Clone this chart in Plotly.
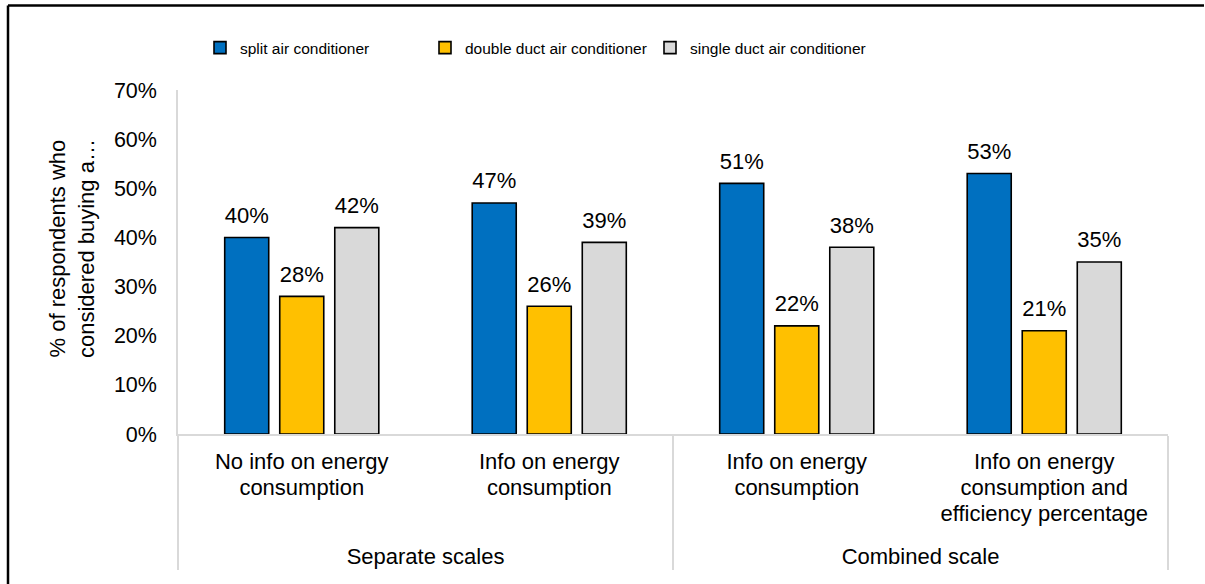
import plotly.graph_objects as go

# Survey groups (outer axis level) and information conditions (inner level)
groups = ["Separate scales", "Separate scales", "Combined scale", "Combined scale"]
conditions = [
    ["No info on energy", "consumption"],
    ["Info on energy", "consumption"],
    ["Info on energy", "consumption"],
    ["Info on energy", "consumption and", "efficiency percentage"],
]

# Share of respondents who considered buying each product type
series_names = ["split air conditioner", "double duct air conditioner", "single duct air conditioner"]
split_ac = [0.40, 0.47, 0.51, 0.53]
double_duct_ac = [0.28, 0.26, 0.22, 0.21]
single_duct_ac = [0.42, 0.39, 0.38, 0.35]
series_values = [split_ac, double_duct_ac, single_duct_ac]
series_colors = ["#0070C0", "#FFC000", "#D9D9D9"]

y_tick_values = [0, 0.1, 0.2, 0.3, 0.4, 0.5, 0.6, 0.7]

W, H = 1205, 584
ML, MR, MT, MB = 178, 37, 90, 150
PW, PH = W - ML - MR, H - MT - MB


def px_x(px):
    return (px - ML) / PW


def px_y(py):
    return (H - MB - py) / PH


FONT = "Liberation Sans, Arial, sans-serif"
GAP = 0.333
MAX_LINES = max(len(c) for c in conditions)


def styled(lines, size):
    # glyphs a little larger than the axis font, rows padded so every label has equal depth
    out = [f"<span style='font-size:{size}px'>{ln}</span>" for ln in lines]
    return "<br>".join(out + ["\u00a0"] * (MAX_LINES + 1 - len(lines)))


inner_labels = [styled(c, 22) for c in conditions]
outer_labels = [f"<span style='font-size:22px'>{g}</span>" for g in groups]

fig = go.Figure()
for name, vals, col in zip(series_names, series_values, series_colors):
    fig.add_trace(go.Bar(
        name=name,
        x=[outer_labels, inner_labels],
        y=vals,
        marker=dict(color=col, line=dict(color="#000000", width=1.6)),
        hovertemplate="%{y:.0%}<extra>" + name + "</extra>",
    ))

# Value labels above each bar, grouped the same way as the bars
for name, vals in zip(series_names, series_values):
    fig.add_trace(go.Scatter(
        x=[outer_labels, inner_labels],
        y=vals,
        mode="markers+text",
        marker=dict(size=13, opacity=0),
        text=[f"{v:.0%}" for v in vals],
        textposition="top center",
        textfont=dict(family=FONT, size=22, color="#000000"),
        showlegend=False,
        hoverinfo="skip",
        cliponaxis=False,
    ))

fig.update_layout(
    width=W, height=H, autosize=False,
    margin=dict(l=ML, r=MR, t=MT, b=MB, pad=0),
    paper_bgcolor="#FFFFFF", plot_bgcolor="#FFFFFF",
    font=dict(family=FONT, color="#000000"),
    barmode="group", bargap=GAP, bargroupgap=0.2,
    scattermode="group", scattergap=GAP,
    showlegend=True,
    legend=dict(
        orientation="h",
        x=px_x(200), xanchor="left",
        y=px_y(48), yanchor="middle",
        font=dict(family=FONT, size=15.5, color="#000000"),
        itemwidth=30,
        entrywidth=180, entrywidthmode="pixels",
        traceorder="normal",
        bgcolor="rgba(0,0,0,0)",
    ),
    xaxis=dict(
        type="multicategory",
        showline=True, linecolor="#D9D9D9", linewidth=1.5,
        showgrid=False, ticks="",
        ticklabelstandoff=9,
        dividercolor="#D9D9D9", dividerwidth=1.5,
        tickfont=dict(family=FONT, size=20, color="#000000"),
    ),
    yaxis=dict(
        range=[0, 0.7], tickvals=y_tick_values, tickformat=".0%",
        showline=True, linecolor="#D9D9D9", linewidth=1.5,
        showgrid=False, zeroline=False, ticks="",
        ticklabelstandoff=15,
        tickfont=dict(family=FONT, size=21.5, color="#000000"),
    ),
    annotations=[dict(
        text="% of respondents who<br>considered buying a…",
        xref="paper", yref="paper",
        x=px_x(72), y=px_y(249),
        xanchor="center", yanchor="middle",
        textangle=-90, showarrow=False,
        font=dict(family=FONT, size=22, color="#000000"),
    )],
    shapes=[
        # outer frame (left and top edges)
        dict(type="line", xref="paper", yref="paper",
             x0=px_x(8), x1=px_x(8), y0=px_y(5.5), y1=px_y(590),
             line=dict(color="#000000", width=2.5)),
        dict(type="line", xref="paper", yref="paper",
             x0=px_x(8), x1=px_x(1204), y0=px_y(5.5), y1=px_y(5.5),
             line=dict(color="#000000", width=2.5)),
    ],
)

fig.write_html("out.html", config={"displayModeBar": False})
